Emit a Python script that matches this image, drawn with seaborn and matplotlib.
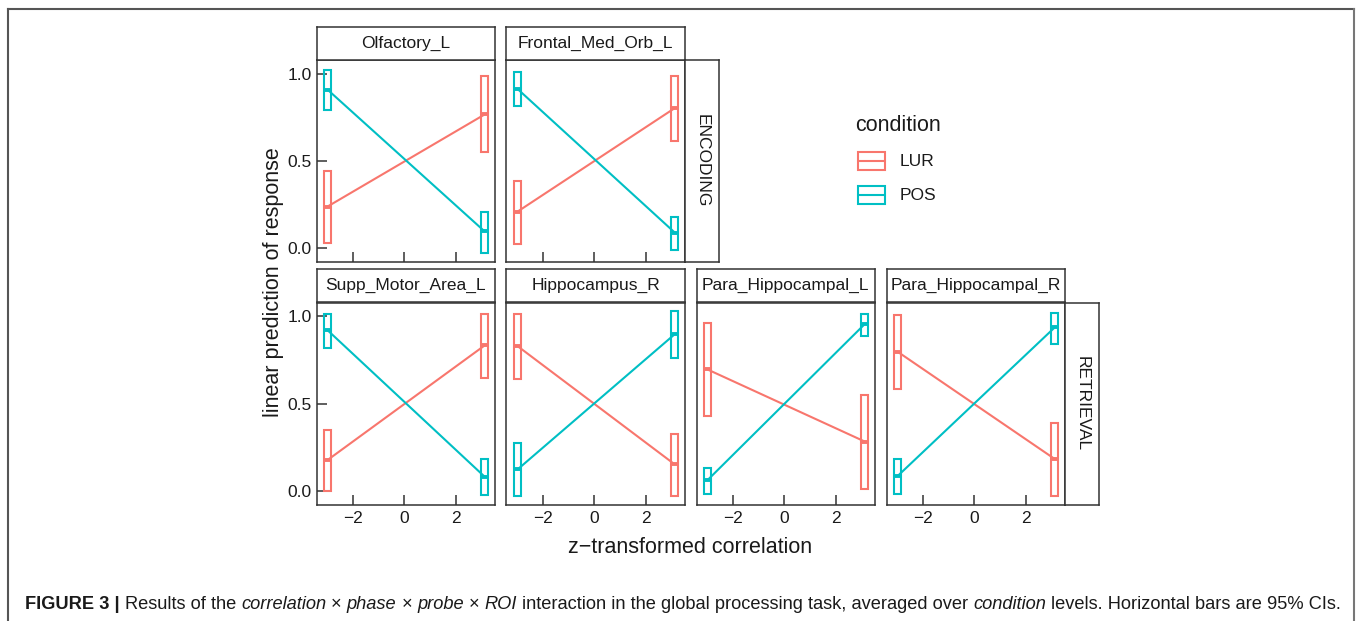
import numpy as np
import pandas as pd
import matplotlib
matplotlib.use("Agg")
import matplotlib.pyplot as plt
from matplotlib.patches import Rectangle
import seaborn as sns

# ---------------- data ----------------
rois = ["Olfactory_L", "Frontal_Med_Orb_L", "Supp_Motor_Area_L",
        "Hippocampus_R", "Para_Hippocampal_L", "Para_Hippocampal_R"]
roi_phase = ["ENCODING", "ENCODING", "RETRIEVAL", "RETRIEVAL", "RETRIEVAL", "RETRIEVAL"]
conditions = ["LUR", "POS"]
z_points = [-2.97, 3.13]

lur_fit = [[0.240, 0.768], [0.211, 0.804], [0.177, 0.834], [0.830, 0.152], [0.696, 0.283], [0.798, 0.183]]
lur_lo = [[0.031, 0.550], [0.027, 0.616], [-0.002, 0.648], [0.644, -0.029], [0.431, 0.008], [0.585, -0.027]]
lur_hi = [[0.445, 0.986], [0.384, 0.986], [0.350, 1.013], [1.013, 0.327], [0.965, 0.552], [1.007, 0.389]]

pos_fit = [[0.910, 0.097], [0.914, 0.091], [0.921, 0.081], [0.123, 0.898], [0.062, 0.956], [0.085, 0.937]]
pos_lo = [[0.795, -0.026], [0.815, -0.011], [0.817, -0.021], [-0.031, 0.763], [-0.015, 0.888], [-0.019, 0.844]]
pos_hi = [[1.023, 0.210], [1.009, 0.182], [1.013, 0.181], [0.273, 1.032], [0.133, 1.013], [0.183, 1.019]]

x_ticks = [-2, 0, 2]
y_ticks = [0.0, 0.5, 1.0]

rows = []
for i, roi in enumerate(rois):
    for cond, f, lo, hi in (("LUR", lur_fit, lur_lo, lur_hi), ("POS", pos_fit, pos_lo, pos_hi)):
        for j, z in enumerate(z_points):
            rows.append(dict(roi=roi, phase=roi_phase[i], condition=cond, z=z,
                             fit=f[i][j], lo=lo[i][j], hi=hi[i][j]))
df = pd.DataFrame(rows)

# ---------------- styling ----------------
sns.set_theme(style="white")
FONT = "Liberation Sans"
plt.rcParams["font.family"] = [FONT, "DejaVu Sans"]
palette = {"LUR": "#F8766D", "POS": "#00BFC4"}
DARK = "#333333"
TXT = "#1A1A1A"
W, H = 1357, 621

fig = plt.figure(figsize=(W / 100, H / 100), dpi=100)
fig.patch.set_facecolor("white")


def rect(x0, y0, x1, y1):
    return [x0 / W, 1 - y1 / H, (x1 - x0) / W, (y1 - y0) / H]


# panel layout in pixels
panel_px = {
    "Olfactory_L": (316.5, 60, 495, 262),
    "Frontal_Med_Orb_L": (506.5, 60, 685, 262),
    "Supp_Motor_Area_L": (316.5, 302.5, 495, 504.5),
    "Hippocampus_R": (506.5, 302.5, 685, 504.5),
    "Para_Hippocampal_L": (696.5, 302.5, 875, 504.5),
    "Para_Hippocampal_R": (886.5, 302.5, 1065, 504.5),
}
first_col = {"Olfactory_L", "Supp_Motor_Area_L"}
bottom_row = {"Supp_Motor_Area_L", "Hippocampus_R", "Para_Hippocampal_L", "Para_Hippocampal_R"}
box_w = 0.285


def make_strip(x0, y0, x1, y1, label, rotation=0):
    s = fig.add_axes(rect(x0, y0, x1, y1))
    s.set_facecolor("white")
    s.set_xticks([]); s.set_yticks([])
    for sp in s.spines.values():
        sp.set_color(DARK); sp.set_linewidth(1.1)
    s.text(0.5, 0.5, label, transform=s.transAxes, ha="center", va="center",
           fontsize=12.5, color=TXT, rotation=rotation)
    return s


for roi in rois:
    x0, y0, x1, y1 = panel_px[roi]
    ax = fig.add_axes(rect(x0, y0, x1, y1))
    sub = df[df.roi == roi]
    sns.lineplot(data=sub, x="z", y="fit", hue="condition", hue_order=conditions,
                 palette=palette, estimator=None, legend=False, linewidth=1.5, ax=ax)
    for cond in conditions:
        c = sub[sub.condition == cond]
        ax.bar(c.z, c.hi - c.lo, bottom=c.lo, width=box_w, fill=False,
               edgecolor=palette[cond], linewidth=1.5, zorder=3)
        ax.hlines(c.fit, c.z - box_w / 2, c.z + box_w / 2, color=palette[cond],
                  linewidth=2.8, zorder=3)
    ax.set_xlim(-3.40, 3.53)
    ax.set_ylim(-0.078, 1.08)
    ax.set_xticks(x_ticks)
    ax.set_yticks(y_ticks)
    ax.set_xlabel(""); ax.set_ylabel("")
    ax.tick_params(direction="in", length=7, width=1.1, color=DARK,
                   labelcolor=TXT, labelsize=12.5, pad=3.5,
                   bottom=True, left=roi in first_col,
                   labelbottom=roi in bottom_row, labelleft=roi in first_col)
    ax.tick_params(axis="x", pad=4.5)
    for sp in ax.spines.values():
        sp.set_color(DARK); sp.set_linewidth(1.1)
    # top strip
    make_strip(x0, y0 - 33.5, x1, y0, roi)

# row strips
make_strip(685, 60, 718.5, 262, "ENCODING", rotation=-90)
make_strip(1065, 302.5, 1098.5, 504.5, "RETRIEVAL", rotation=-90)

# ---------------- overlay (pixel coordinates) ----------------
ov = fig.add_axes([0, 0, 1, 1], zorder=5)
ov.set_xlim(0, W); ov.set_ylim(H, 0)
ov.axis("off")
ov.patch.set_visible(False)

# outer frame
ov.plot([8, 8], [H + 5, 9], color="#555555", lw=1.5, solid_capstyle="projecting")
ov.plot([8, 1354], [9, 9], color="#555555", lw=1.5, solid_capstyle="projecting")
ov.plot([1354, 1354], [9, H + 5], color="#777777", lw=1.5, solid_capstyle="projecting")

# axis titles
ov.text(690, 553, "z\u2212transformed correlation", ha="center", va="baseline",
        fontsize=15.5, color=TXT)
ov.text(273, 282, "linear prediction of response", ha="center", va="center",
        rotation=90, fontsize=15.5, color=TXT)

# legend
ov.text(855, 131, "condition", ha="left", va="baseline", fontsize=15.5, color=TXT)
for cond, yc in zip(conditions, [161, 195]):
    ov.add_patch(Rectangle((858, yc - 9), 27, 18, fill=False,
                           edgecolor=palette[cond], linewidth=1.5))
    ov.plot([858, 885], [yc, yc], color=palette[cond], lw=1.5)
    ov.text(900, yc, cond, ha="left", va="center", fontsize=12.5, color=TXT)

# caption, built from styled pieces
pieces = [("FIGURE 3 |", "bold", "normal"),
          ("Results of the", "normal", "normal"),
          ("correlation", "normal", "italic"),
          ("\u00d7", "normal", "normal"),
          ("phase", "normal", "italic"),
          ("\u00d7", "normal", "normal"),
          ("probe", "normal", "italic"),
          ("\u00d7", "normal", "normal"),
          ("ROI", "normal", "italic"),
          ("interaction in the global processing task, averaged over", "normal", "normal"),
          ("condition", "normal", "italic"),
          ("levels. Horizontal bars are 95% CIs.", "normal", "normal")]
renderer = fig.canvas.get_renderer()


def tw(s, size, weight="normal", style="normal"):
    t = ov.text(0, 0, s, fontsize=size, fontweight=weight, fontstyle=style)
    w = t.get_window_extent(renderer).width
    t.remove()
    return w


base = 12.0
space = tw("a a", base) - tw("aa", base)
total = sum(tw(p, base, w, s) for p, w, s in pieces) + space * (len(pieces) - 1)
size = base * (1342 - 25) / total
space = space * size / base
x = 25
for p, w, s in pieces:
    ov.text(x, 609, p, fontsize=size, fontweight=w, fontstyle=s,
            ha="left", va="baseline", color=TXT)
    x += tw(p, size, w, s) + space

fig.savefig("out.png", dpi=100, facecolor="white")
